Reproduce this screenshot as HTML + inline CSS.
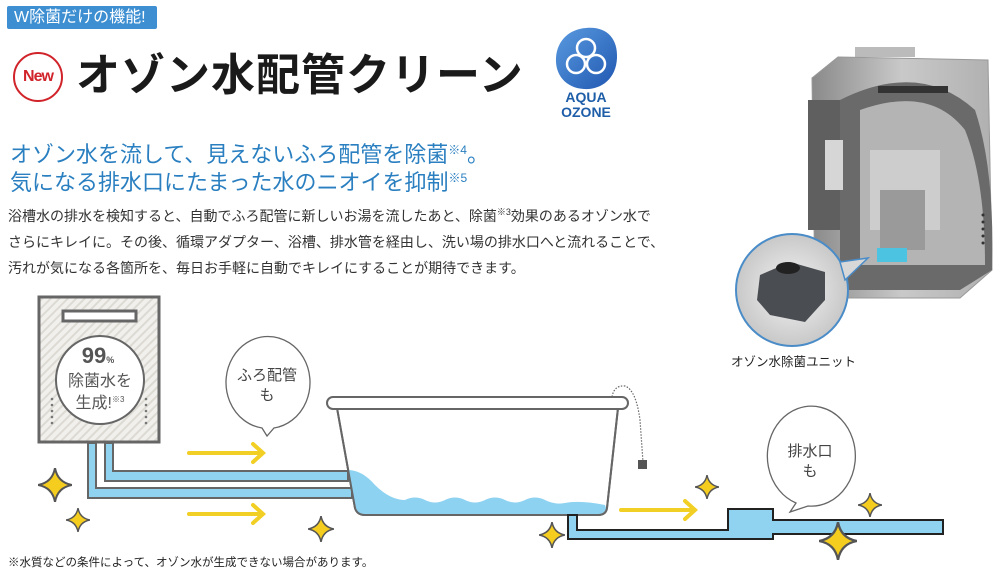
<!DOCTYPE html>
<html><head><meta charset="utf-8">
<style>
body{margin:0;width:1000px;height:573px;overflow:hidden;background:#fff;position:relative;font-family:"Liberation Sans","Noto Sans CJK JP",sans-serif;}
.a{position:absolute;white-space:nowrap;}
sup{line-height:0;vertical-align:0;position:relative;top:-0.7em;}
</style></head><body>
<div class="a" style="left:7px;top:6px;width:150px;height:23px;background:#3d8fd2;border-radius:2px;color:#fff;font-size:16px;line-height:23px;padding-left:7px;box-sizing:border-box;overflow:visible;">W除菌だけの機能!</div>
<div class="a" style="left:13px;top:52px;width:46px;height:46px;border:2px solid #d1232a;border-radius:50%;color:#d1232a;font-weight:bold;font-size:16px;line-height:46px;text-align:center;letter-spacing:-1px;">New</div>
<div class="a" style="left:76px;top:46px;font-size:44px;font-weight:bold;color:#1a1a1a;letter-spacing:1px;line-height:60px;">オゾン水配管クリーン</div>
<div class="a" style="left:10px;top:141px;font-size:22px;color:#2a7fc0;line-height:28px;">オゾン水を流して、見えないふろ配管を除菌<sup style="font-size:12px">※4</sup>。<br>気になる排水口にたまった水のニオイを抑制<sup style="font-size:12px">※5</sup></div>
<div class="a" style="left:8px;top:203px;font-size:14px;color:#333;line-height:26px;">浴槽水の排水を検知すると、自動でふろ配管に新しいお湯を流したあと、除菌<sup style="font-size:9px">※3</sup>効果のあるオゾン水で<br>さらにキレイに。その後、循環アダプター、浴槽、排水管を経由し、洗い場の排水口へと流れることで、<br>汚れが気になる各箇所を、毎日お手軽に自動でキレイにすることが期待できます。</div>
<div class="a" style="left:731px;top:351px;font-size:12.5px;color:#222;">オゾン水除菌ユニット</div>
<div class="a" style="left:8px;top:554px;font-size:11.5px;color:#222;">※水質などの条件によって、オゾン水が生成できない場合があります。</div>
<svg class="a" style="left:0;top:0" width="1000" height="573" viewBox="0 0 1000 573">
<defs>
<pattern id="st" width="6" height="6" patternUnits="userSpaceOnUse" patternTransform="rotate(45)"><rect width="6" height="6" fill="#f1f0ec"/><rect width="2" height="6" fill="#dcdad3"/></pattern>
<linearGradient id="lg" x1="0" y1="0" x2="1" y2="1"><stop offset="0" stop-color="#5a9be0"/><stop offset="1" stop-color="#1f56b0"/></linearGradient>
<linearGradient id="hg" x1="0" y1="0" x2="1" y2="0"><stop offset="0" stop-color="#8a8a8a"/><stop offset=".5" stop-color="#c9c9c9"/><stop offset="1" stop-color="#b0b0b0"/></linearGradient>
<radialGradient id="cg"><stop offset="0" stop-color="#f4f4f4"/><stop offset="1" stop-color="#c8c8c8"/></radialGradient>
<symbol id="sp" viewBox="-10 -10 20 20"><path d="M0-10 Q1.5-1.5 10 0 Q1.5 1.5 0 10 Q-1.5 1.5 -10 0 Q-1.5-1.5 0-10Z" fill="#f5cd1f" stroke="#555" stroke-width="1.2"/></symbol>
</defs>
<path d="M586 28 C606 26 618 38 617 58 C616 80 600 90 584 89 C566 88 555 75 556 58 C557 40 570 29 586 28Z" fill="url(#lg)"/>
<g fill="none" stroke="#fff" stroke-width="2.5"><circle cx="586" cy="48" r="9"/><circle cx="576" cy="64" r="9"/><circle cx="596" cy="64" r="9"/></g>
<text x="586" y="102" font-size="14" font-weight="bold" fill="#1e5ea8" text-anchor="middle" font-family="Liberation Sans">AQUA</text>
<text x="586" y="117" font-size="14" font-weight="bold" fill="#1e5ea8" text-anchor="middle" font-family="Liberation Sans">OZONE</text>
<!-- water heater -->
<rect x="855" y="47" width="60" height="10" fill="#bbb"/>
<path d="M838 57 L988 60 L992 270 L960 298 L815 298 L812 78 Z" fill="url(#hg)" stroke="#999"/>
<rect x="808" y="100" width="32" height="130" fill="#5f5f5f"/>
<path d="M840 100 Q920 60 975 110 Q995 170 992 270 L960 290 L840 290 Z" fill="#6a6a6a"/>
<path d="M860 110 Q930 85 965 130 Q985 180 985 265 L860 265 Z" fill="#b4b4b4"/>
<rect x="870" y="150" width="70" height="80" fill="#cdcdcd"/>
<rect x="880" y="190" width="45" height="60" fill="#9a9a9a"/>
<rect x="878" y="86" width="70" height="7" fill="#333"/>
<rect x="877" y="248" width="30" height="14" fill="#4cc3e0"/>
<rect x="825" y="140" width="18" height="50" fill="#d6d6d6"/>
<g fill="#333"><circle cx="983" cy="215" r="1.5"/><circle cx="983" cy="222" r="1.5"/><circle cx="983" cy="229" r="1.5"/><circle cx="983" cy="236" r="1.5"/><circle cx="983" cy="243" r="1.5"/></g>
<circle cx="792" cy="290" r="56" fill="url(#cg)" stroke="#4a8cc8" stroke-width="2"/>
<path d="M840 262 L868 258 L845 280Z" fill="#d8d8d8" stroke="#4a8cc8" stroke-width="1.5"/>
<path d="M760 275 L790 262 L825 272 L825 300 L805 322 L770 315 L757 300Z" fill="#4a4d52"/>
<ellipse cx="788" cy="268" rx="12" ry="6" fill="#222"/>
<!-- remote -->
<rect x="39" y="297" width="120" height="145" fill="url(#st)" stroke="#666" stroke-width="3"/>
<rect x="63" y="311" width="73" height="10" fill="#fff" stroke="#666" stroke-width="3"/>
<circle cx="100" cy="380" r="44" fill="#fff" stroke="#666" stroke-width="2"/>
<text x="98" y="363" font-size="22" font-weight="bold" fill="#555" text-anchor="middle">99<tspan font-size="9">%</tspan></text>
<text x="100" y="386" font-size="16" fill="#555" text-anchor="middle" font-family="Liberation Sans,Noto Sans CJK JP,sans-serif">除菌水を</text>
<text x="100" y="408" font-size="16" fill="#555" text-anchor="middle" font-family="Liberation Sans,Noto Sans CJK JP,sans-serif">生成!<tspan font-size="8" dy="-6">※3</tspan></text>
<g fill="#777"><circle cx="52" cy="399" r="1.3"/><circle cx="52" cy="405" r="1.3"/><circle cx="52" cy="411" r="1.3"/><circle cx="52" cy="417" r="1.3"/><circle cx="52" cy="423" r="1.3"/><circle cx="146" cy="399" r="1.3"/><circle cx="146" cy="405" r="1.3"/><circle cx="146" cy="411" r="1.3"/><circle cx="146" cy="417" r="1.3"/><circle cx="146" cy="423" r="1.3"/></g>
<path d="M88 443 L88 498 L352 498 L352 488 L96 488 L96 443Z" fill="#8fd3f0" stroke="#666" stroke-width="2"/>
<path d="M105 443 L105 481 L348 481 L348 471 L113 471 L113 443Z" fill="#8fd3f0" stroke="#666" stroke-width="2"/>
<path d="M262 428 A42 46 0 1 1 274 428 L267 436Z" fill="#fff" stroke="#666" stroke-width="1.3"/>
<text x="267" y="380" font-size="15" fill="#444" text-anchor="middle" font-family="Liberation Sans,Noto Sans CJK JP,sans-serif">ふろ配管</text>
<text x="267" y="400" font-size="15" fill="#444" text-anchor="middle" font-family="Liberation Sans,Noto Sans CJK JP,sans-serif">も</text>
<path d="M796 503 A44 50 0 1 1 808 506 L790 512Z" fill="#fff" stroke="#666" stroke-width="1.3"/>
<text x="810" y="456" font-size="15" fill="#444" text-anchor="middle" font-family="Liberation Sans,Noto Sans CJK JP,sans-serif">排水口</text>
<text x="810" y="476" font-size="15" fill="#444" text-anchor="middle" font-family="Liberation Sans,Noto Sans CJK JP,sans-serif">も</text>
<g stroke="#f2cf24" stroke-width="4" fill="none" stroke-linecap="round"><path d="M189 453 L262 453 M253 444 L263 453 L253 462"/><path d="M189 514 L262 514 M253 505 L263 514 L253 523"/><path d="M621 510 L694 510 M685 501 L695 510 L685 519"/></g>
<path d="M337 408 L355 508 Q357 515 365 515 L598 515 Q606 515 607 508 L618 408Z" fill="#fff" stroke="#666" stroke-width="2"/>
<path d="M348 470 Q362 470 375 485 Q390 500 405 500 Q415 495 425 500 Q435 505 445 500 Q455 495 465 500 Q475 505 485 500 Q495 495 505 500 Q515 505 525 500 Q535 495 545 500 Q555 505 565 503 Q580 500 605 505 L606 508 Q605 514 598 514 L365 514 Q357 514 356 508Z" fill="#8dd2f1"/>
<path d="M337 408 L355 508 Q357 515 365 515 L598 515 Q606 515 607 508 L618 408" fill="none" stroke="#666" stroke-width="2"/>
<rect x="327" y="397" width="301" height="12" rx="6" fill="#fff" stroke="#666" stroke-width="2"/>
<path d="M612 397 Q614 385 625 386 Q636 390 640 420 L643 462" fill="none" stroke="#666" stroke-width="1.2" stroke-dasharray="1.5 1.5"/>
<rect x="638" y="460" width="9" height="9" fill="#555"/>
<path d="M568 515 L568 539 L773 539 L773 534 L943 534 L943 520 L773 520 L773 509 L728 509 L728 530 L577 530 L577 515Z" fill="#8fd3f0" stroke="#222" stroke-width="2"/>
<use href="#sp" x="38" y="468" width="34" height="34"/>
<use href="#sp" x="66" y="508" width="24" height="24"/>
<use href="#sp" x="308" y="516" width="26" height="26"/>
<use href="#sp" x="539" y="522" width="26" height="26"/>
<use href="#sp" x="695" y="475" width="24" height="24"/>
<use href="#sp" x="858" y="493" width="24" height="24"/>
<use href="#sp" x="819" y="522" width="38" height="38"/>
</svg>
</body></html>
